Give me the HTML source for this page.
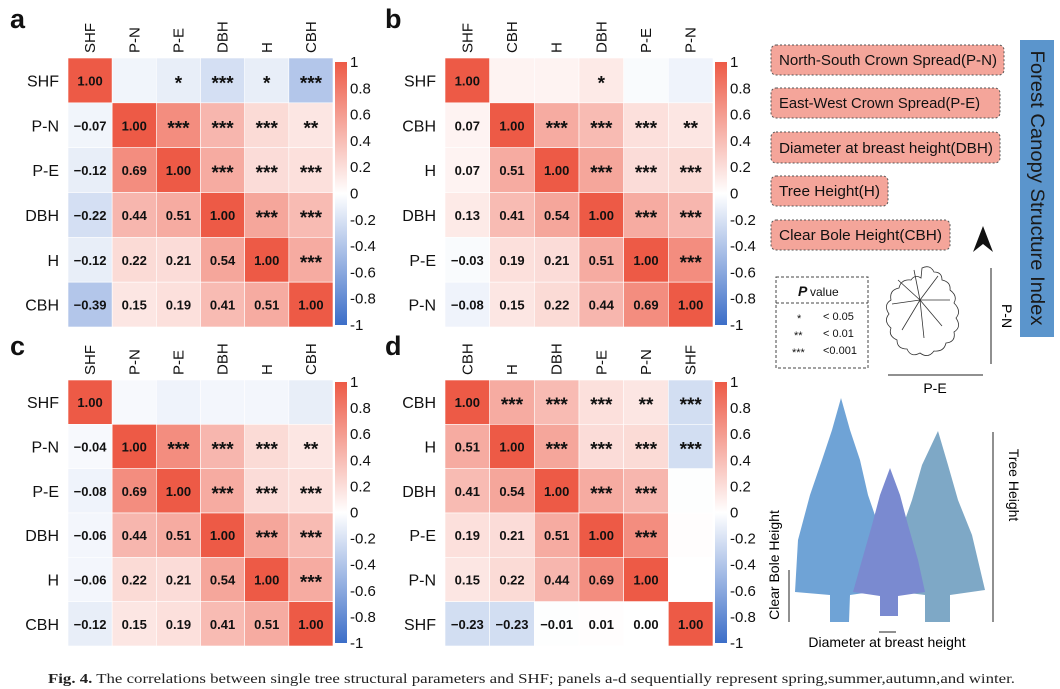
<!DOCTYPE html>
<html><head><meta charset="utf-8">
<style>
html,body{margin:0;padding:0;background:#fff;}
svg{display:block;font-family:"Liberation Sans",sans-serif;}
</style></head>
<body>
<svg id="fig" width="1060" height="689" viewBox="0 0 1060 689" xmlns="http://www.w3.org/2000/svg">
<defs>
<linearGradient id="cbar" x1="0" y1="0" x2="0" y2="1">
<stop offset="0" stop-color="#ed5a46"/><stop offset="0.5" stop-color="#ffffff"/><stop offset="1" stop-color="#3c6ec8"/>
</linearGradient>
</defs>
<g id="panels"></g>

<g font-size="15" fill="#111">
<rect x="771" y="45" width="233" height="30" rx="5" fill="#f4a59a" stroke="#555" stroke-dasharray="2,2"/>
<text x="779" y="65" fill="#111" textLength="218" lengthAdjust="spacingAndGlyphs">North-South Crown Spread(P-N)</text>
<rect x="771" y="88" width="229" height="30" rx="5" fill="#f4a59a" stroke="#555" stroke-dasharray="2,2"/>
<text x="779" y="108" fill="#111" textLength="201" lengthAdjust="spacingAndGlyphs">East-West Crown Spread(P-E)</text>
<rect x="771" y="132" width="229" height="31" rx="5" fill="#f4a59a" stroke="#555" stroke-dasharray="2,2"/>
<text x="779" y="153" fill="#111" textLength="214" lengthAdjust="spacingAndGlyphs">Diameter at breast height(DBH)</text>
<rect x="771" y="176" width="117" height="30" rx="5" fill="#f4a59a" stroke="#555" stroke-dasharray="2,2"/>
<text x="779" y="196" fill="#111" textLength="101" lengthAdjust="spacingAndGlyphs">Tree Height(H)</text>
<rect x="771" y="220" width="179" height="30" rx="5" fill="#f4a59a" stroke="#555" stroke-dasharray="2,2"/>
<text x="779" y="240" fill="#111" textLength="163" lengthAdjust="spacingAndGlyphs">Clear Bole Height(CBH)</text>
</g>
<g>
<rect x="1020" y="40" width="34" height="297" fill="#5b95cc"/>
<text x="1031" y="188" font-size="19" fill="#1a1a1a" text-anchor="middle" transform="rotate(90 1031 188)" textLength="275" lengthAdjust="spacingAndGlyphs">Forest Canopy Structure Index</text>
</g>
<path d="M983,226 L993,252 L983,244 L973,252 Z" fill="#111"/>
<g font-size="11" fill="#111">
<rect x="776" y="277" width="92" height="91" fill="#fff" stroke="#444" stroke-dasharray="3,2"/>
<line x1="776" y1="303" x2="868" y2="303" stroke="#444" stroke-dasharray="3,2"/>
<text x="798" y="296" font-size="14" font-weight="bold" font-style="italic">P</text>
<text x="810" y="296" font-size="12">value</text>
<text x="797" y="322">*</text><text x="823" y="320">&lt; 0.05</text>
<text x="794" y="339">**</text><text x="823" y="337">&lt; 0.01</text>
<text x="792" y="356">***</text><text x="823" y="354">&lt;0.001</text>
</g>
<g fill="none" stroke="#333" stroke-width="0.8">
<path d="M922,268 q8,-4 12,4 q8,0 8,8 q9,2 8,10 q8,6 4,13 q8,8 2,15 q6,9 -2,14 q2,10 -8,11 q-2,9 -12,8 q-6,8 -14,2 q-9,5 -13,-4 q-10,0 -10,-9 q-9,-4 -6,-12 q-8,-7 -2,-14 q-6,-9 2,-14 q-2,-10 8,-12 q2,-9 12,-8 q4,-6 10,-2z"/>
<path d="M920,300 l-22,-20 M920,300 l18,-24 M920,300 l-18,30 M920,300 l22,26 M920,300 l-28,4 M920,300 l30,0 M920,300 l4,38 M920,300 l-6,-30"/>
</g>
<g>
<line x1="991" y1="268" x2="991" y2="364" stroke="#222"/>
<text x="1002" y="316" font-size="14" text-anchor="middle" transform="rotate(90 1002 316)">P-N</text>
</g>
<g>
<line x1="888" y1="375" x2="983" y2="375" stroke="#222"/>
<text x="935" y="393" font-size="14" text-anchor="middle">P-E</text>
</g>
<g>
<path d="M841,398 L850,430 L860,460 L868,495 L880,530 L885,590 L850,595 L849,622 L830,622 L830,595 L795,592 L798,540 L810,495 L822,460 L832,430 Z" fill="#6fa3d6"/>
<path d="M938,431 L948,465 L958,500 L972,535 L985,590 L950,595 L950,622 L925,622 L925,595 L885,590 L898,540 L912,500 L922,465 Z" fill="#7ea8c6"/>
<path d="M890,468 L900,495 L908,525 L918,560 L925,592 L898,596 L898,616 L880,616 L880,596 L853,592 L862,560 L872,525 L880,495 Z" fill="#7a8ad0"/>
<line x1="993" y1="432" x2="993" y2="622" stroke="#222"/>
<text x="1009" y="485" font-size="14" text-anchor="middle" transform="rotate(90 1009 485)">Tree Height</text>
<line x1="789" y1="570" x2="789" y2="622" stroke="#222"/>
<text x="779" y="565" font-size="14" text-anchor="middle" transform="rotate(-90 779 565)">Clear Bole Height</text>
<line x1="879" y1="632" x2="896" y2="632" stroke="#222"/>
<text x="887" y="647" font-size="14" text-anchor="middle">Diameter at breast height</text>
</g>
<text x="48" y="683" font-family="'Liberation Serif',serif" font-size="14" fill="#222" textLength="967" lengthAdjust="spacingAndGlyphs"><tspan font-weight="bold">Fig. 4.</tspan> The correlations between single tree structural parameters and SHF; panels a-d sequentially represent spring,summer,autumn,and winter.</text>
</svg>
<script>
const labelsA = ["SHF","P-N","P-E","DBH","H","CBH"];
const valuesA = [[1],[-0.07,1],[-0.12,0.69,1],[-0.22,0.44,0.51,1],[-0.12,0.22,0.21,0.54,1],[-0.39,0.15,0.19,0.41,0.51,1]];
const starsA = [["","*","***","*","***"],["***","***","***","**"],["***","***","***"],["***","***"],["***"]];
const labelsB = ["SHF","CBH","H","DBH","P-E","P-N"];
const valuesB = [[1],[0.07,1],[0.07,0.51,1],[0.13,0.41,0.54,1],[-0.03,0.19,0.21,0.51,1],[-0.08,0.15,0.22,0.44,0.69,1]];
const starsB = [["","","*","",""],["***","***","***","**"],["***","***","***"],["***","***"],["***"]];
const labelsC = ["SHF","P-N","P-E","DBH","H","CBH"];
const valuesC = [[1],[-0.04,1],[-0.08,0.69,1],[-0.06,0.44,0.51,1],[-0.06,0.22,0.21,0.54,1],[-0.12,0.15,0.19,0.41,0.51,1]];
const starsC = [["","","","",""],["***","***","***","**"],["***","***","***"],["***","***"],["***"]];
const labelsD = ["CBH","H","DBH","P-E","P-N","SHF"];
const valuesD = [[1],[0.51,1],[0.41,0.54,1],[0.19,0.21,0.51,1],[0.15,0.22,0.44,0.69,1],[-0.23,-0.23,-0.01,0.01,0.00,1]];
const starsD = [["***","***","***","**","***"],["***","***","***","***"],["***","***",""],["***",""],[""]];
const colorTicks = [1,0.8,0.6,0.4,0.2,0,-0.2,-0.4,-0.6,-0.8,-1];

const NS="http://www.w3.org/2000/svg";
const root=document.getElementById("panels");
function mk(tag,attrs,parent){const e=document.createElementNS(NS,tag);for(const k in attrs)e.setAttribute(k,attrs[k]);parent.appendChild(e);return e;}
function colorOf(v){
  let r,g,b;
  if(v>=0){r=255-v*18;g=255-v*165;b=255-v*185;}
  else{const t=-v;r=255-t*195;g=255-t*145;b=255-t*55;}
  return `rgb(${Math.round(r)},${Math.round(g)},${Math.round(b)})`;
}
function fmt(v){const s=Math.abs(v).toFixed(2);return (v<0?"\u2212":"")+s;}

const panels=[
 {id:"a",labels:labelsA,values:valuesA,stars:starsA,gx:68,gy:58,gw:265,gh:269,lx:10,ly:28,cbx:335,cby:62,cbh:263},
 {id:"b",labels:labelsB,values:valuesB,stars:starsB,gx:445,gy:58,gw:268,gh:269,lx:385,ly:28,cbx:715,cby:62,cbh:263},
 {id:"c",labels:labelsC,values:valuesC,stars:starsC,gx:68,gy:380,gw:265,gh:266,lx:10,ly:355,cbx:335,cby:382,cbh:261},
 {id:"d",labels:labelsD,values:valuesD,stars:starsD,gx:445,gy:380,gw:268,gh:266,lx:385,ly:355,cbx:715,cby:382,cbh:261}
];

panels.forEach(p=>{
  const g=mk("g",{},root);
  
  
  const n=p.labels.length, cw=p.gw/n, ch=p.gh/n;
  const xS=i=>p.gx+i*cw, yS=i=>p.gy+i*ch;
  const letter=mk("text",{x:p.lx,y:p.ly,"font-size":27,"font-weight":"bold",fill:"#111"},g);
  letter.textContent=p.id;
  
  
  for(let i=0;i<n;i++){
    for(let j=0;j<n;j++){
      const v = i>=j ? p.values[i][j] : p.values[j][i];
      const cell=mk("rect",{x:xS(j),y:yS(i),width:cw,height:ch,fill:colorOf(v),stroke:"#fff","stroke-width":0.6},g);
      
      
      let txt, fs;
      if(i>=j){txt=fmt(v);fs=13;}
      else{txt=p.stars[i][j-i-1];fs=19;}
      if(txt){
        const t=mk("text",{x:xS(j)+cw/2,y:yS(i)+ch/2+(i>=j?5:9),"font-size":fs,"font-weight":"bold","text-anchor":"middle",fill:"#111"},g);
        t.textContent=txt;
        
        
      }
    }
    const rl=mk("text",{x:p.gx-9,y:yS(i)+ch/2+6,"font-size":16,"text-anchor":"end",fill:"#111"},g);
    rl.textContent=p.labels[i];
    
    
    const cx=xS(i)+cw/2+5, cy=p.gy-5;
    const cl=mk("text",{x:cx,y:cy,"font-size":15,"text-anchor":"start",fill:"#111",transform:`rotate(-90 ${cx} ${cy})`},g);
    cl.textContent=p.labels[i];
    
    
  }
  const cb=mk("rect",{x:p.cbx,y:p.cby,width:12,height:p.cbh,fill:"url(#cbar)"},g);
  
  
  const cbY=v=>p.cby+(1-v)/2*p.cbh;
  colorTicks.forEach(v=>{
    const t=mk("text",{x:p.cbx+15,y:cbY(v)+5,"font-size":15,fill:"#111"},g);
    t.textContent=v===0?"0":(v<0?"-":"")+String(Math.abs(v));
    
    
  });
});
</script>
</body></html>
